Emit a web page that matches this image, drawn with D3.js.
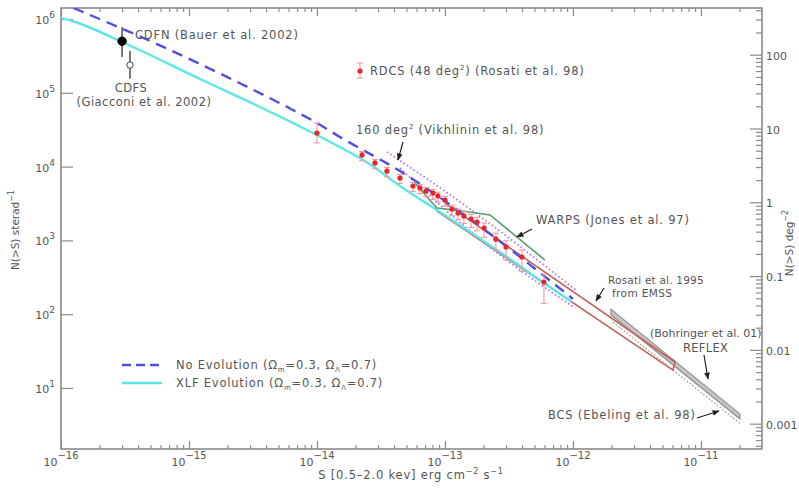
<!DOCTYPE html>
<html>
<head>
<meta charset="utf-8">
<script src="https://d3js.org/d3.v7.min.js"></script>
<style>
  html, body { margin: 0; padding: 0; background: #fff; }
  svg { display: block; }
  text { font-family: "DejaVu Sans", sans-serif; fill: #555; }
  .axis path { display: none; }
  .axis line { stroke: #8a8a8a; stroke-width: 1.2px; }
</style>
</head>
<body>
<div id="chart"></div>
<script>
  // ---- data ----
  // model curves, S in erg cm^-2 s^-1, N(>S) per steradian
  var noEvoS = [1.25e-16, 5.62e-16, 1.98e-15, 6.49e-15, 1e-14, 1.51e-14, 4.45e-14, 1e-13, 1.57e-13, 3e-13, 5.2e-13, 1e-12];
  var noEvoN = [1.41e6, 4.58e5, 1.64e5, 5.85e4, 3.9e4, 2.52e4, 8.7e3, 3.42e3, 1.95e3, 840, 397, 161];

  var xlfS = [1e-16, 1.22e-16, 3.0e-16, 1.22e-15, 3.59e-15, 1e-14, 1.51e-14, 2.59e-14, 4.45e-14, 8.65e-14, 1.57e-13, 3.22e-13, 5.52e-13, 9.8e-13];
  var xlfN = [1.03e6, 9.4e5, 4.88e5, 1.54e5, 6.43e4, 2.68e4, 1.84e4, 1.08e4, 5.46e3, 2.58e3, 1.30e3, 560, 290, 146];

  // RDCS (Rosati et al. 98)
  var rdcsS  = [1e-14, 2.25e-14, 2.84e-14, 3.52e-14, 4.45e-14, 5.62e-14, 6.38e-14, 7.11e-14, 8.05e-14, 8.81e-14, 1e-13,
                1.135e-13, 1.265e-13, 1.406e-13, 1.6e-13, 1.78e-13, 2.02e-13, 2.5e-13, 3e-13, 4e-13, 5.93e-13];
  var rdcsN  = [2.85e4, 1.44e4, 1.12e4, 8.7e3, 7.0e3, 5.46e3, 5.13e3, 4.67e3, 4.38e3, 4.0e3, 3.52e3,
                2.66e3, 2.35e3, 2.14e3, 1.95e3, 1.77e3, 1.47e3, 1.04e3, 815, 596, 273];
  var rdcsLo = [2.1e4, 1.2e4, 9.4e3, 7.3e3, 5.9e3, 4.6e3, 4.3e3, 3.9e3, 3.6e3, 3.3e3, 2.9e3,
                2.15e3, 1.9e3, 1.7e3, 1.5e3, 1.35e3, 1.1e3, 720, 540, 380, 140];
  var rdcsHi = [3.9e4, 1.6e4, 1.25e4, 9.7e3, 7.8e3, 6.1e3, 5.7e3, 5.2e3, 4.9e3, 4.5e3, 3.95e3,
                3.0e3, 2.65e3, 2.45e3, 2.25e3, 2.05e3, 1.72e3, 1.25e3, 990, 740, 350];

  // deep fields: [S, N, Nlo, Nhi]
  var cdfn = [3.0e-16, 5.0e5, 3.06e5, 7.8e5];
  var cdfs = [3.46e-16, 2.38e5, 1.55e5, 3.7e5];

  // 160 deg^2 (Vikhlinin et al. 98) band edges
  var vikUpS = [3.52e-14, 1.57e-13, 1.05e-12];
  var vikUpN = [1.58e4, 2.66e3, 213];
  var vikLoS = [4.45e-14, 2.13e-13, 1.04e-12];
  var vikLoN = [9.5e3, 867, 121];

  // WARPS (Jones et al. 97)
  var warpsS = [5.83e-14, 7.36e-14, 8.65e-14, 1.36e-13, 2.25e-13, 6.04e-13];
  var warpsN = [6.0e3, 3.76e3, 2.75e3, 2.5e3, 2.21e3, 542];

  // Rosati et al. 1995, EMSS band edges
  var emssUpS = [1e-13, 6.27e-12];
  var emssUpN = [3.2e3, 22.5];
  var emssLoS = [8.65e-14, 6.04e-12];
  var emssLoN = [2.5e3, 17.5];

  // REFLEX (Boehringer et al. 01) band edges, BCS (Ebeling et al. 98)
  var reflexS  = [1.98e-12, 2.02e-11];
  var reflexUp = [117, 4.45];
  var reflexLo = [97.5, 3.8];
  var bcsS = [2.05e-12, 2.05e-11];
  var bcsN = [78, 3.25];

  var xMajor = [1e-16, 1e-15, 1e-14, 1e-13, 1e-12, 1e-11];
  var xExp = ["\u221216", "\u221215", "\u221214", "\u221213", "\u221212", "\u221211"];
  var yMajor = [1e1, 1e2, 1e3, 1e4, 1e5, 1e6];
  var yExp = ["1", "2", "3", "4", "5", "6"];
  var rMajor = [100, 10, 1, 0.1, 0.01, 0.001];
  var rLabels = ["100", "10", "1", "0.1", "0.01", "0.001"];
  var SR_TO_DEG2 = 3282.8;

  // ---- layout ----
  var width = 799, height = 488;
  var mLeft = 61, mRight = 762, mTop = 8, mBottom = 449;

  var x = d3.scaleLog().domain([1e-16, 3e-11]).range([mLeft, mRight]);
  var y = d3.scaleLog().domain([1.49, 1.41e6]).range([mBottom, mTop]);
  var y2 = d3.scaleLog().domain([1.49 / SR_TO_DEG2, 1.41e6 / SR_TO_DEG2]).range([mBottom, mTop]);

  var svg = d3.select("#chart").append("svg")
      .attr("width", width)
      .attr("height", height);

  var defs = svg.append("defs");
  defs.append("marker")
      .attr("id", "arrow")
      .attr("viewBox", "0 0 10 10")
      .attr("refX", 9).attr("refY", 5)
      .attr("markerWidth", 6).attr("markerHeight", 6)
      .attr("orient", "auto")
      .append("path")
      .attr("d", "M0,1L10,5L0,9z")
      .attr("fill", "#222");

  // minor tick values
  function minors(lo, hi) {
    var out = [];
    for (var e = lo; e <= hi; e++) {
      for (var m = 2; m <= 9; m++) out.push(m * Math.pow(10, e));
    }
    return out;
  }
  var xMinor = minors(-16, -11).filter(function (v) { return v < 3e-11; });
  var rMinor = minors(-4, 2).filter(function (v) { return y2(v) >= mTop && y2(v) <= mBottom; });

  // ---- axes ----
  svg.append("g").attr("class", "axis")
      .attr("transform", "translate(0," + mBottom + ")")
      .call(d3.axisBottom(x).tickValues(xMajor).tickSize(-8).tickFormat(""));
  svg.append("g").attr("class", "axis")
      .attr("transform", "translate(0," + mBottom + ")")
      .call(d3.axisBottom(x).tickValues(xMinor).tickSize(-4).tickFormat(""));
  svg.append("g").attr("class", "axis")
      .attr("transform", "translate(0," + mTop + ")")
      .call(d3.axisTop(x).tickValues(xMajor).tickSize(-8).tickFormat(""));
  svg.append("g").attr("class", "axis")
      .attr("transform", "translate(0," + mTop + ")")
      .call(d3.axisTop(x).tickValues(xMinor).tickSize(-4).tickFormat(""));
  svg.append("g").attr("class", "axis")
      .attr("transform", "translate(" + mLeft + ",0)")
      .call(d3.axisLeft(y).tickValues(yMajor).tickSize(-12).tickFormat(""));
  svg.append("g").attr("class", "axis")
      .attr("transform", "translate(" + mRight + ",0)")
      .call(d3.axisRight(y2).tickValues(rMajor).tickSize(-12).tickFormat(""));
  svg.append("g").attr("class", "axis")
      .attr("transform", "translate(" + mRight + ",0)")
      .call(d3.axisRight(y2).tickValues(rMinor).tickSize(-6).tickFormat(""));

  svg.append("rect")
      .attr("x", mLeft).attr("y", mTop)
      .attr("width", mRight - mLeft).attr("height", mBottom - mTop)
      .attr("fill", "none")
      .attr("stroke", "#8a8a8a")
      .attr("stroke-width", 1.6);

  // tick labels
  xMajor.forEach(function (v, i) {
    var t = svg.append("text")
        .attr("x", x(v)).attr("y", 466)
        .attr("text-anchor", "middle")
        .style("font-size", "11px");
    t.append("tspan").text("10");
    t.append("tspan").attr("dy", -7).style("font-size", "10px").text(xExp[i]);
  });
  yMajor.forEach(function (v, i) {
    var t = svg.append("text")
        .attr("x", 55).attr("y", y(v) + 5)
        .attr("text-anchor", "end")
        .style("font-size", "11px");
    t.append("tspan").text("10");
    t.append("tspan").attr("dy", -6).style("font-size", "9px").text(yExp[i]);
  });
  rMajor.forEach(function (v, i) {
    svg.append("text")
        .attr("x", 766).attr("y", y2(v) + 5)
        .style("font-size", "11px")
        .text(rLabels[i]);
  });

  // axis titles
  var xt = svg.append("text")
      .attr("x", 411).attr("y", 479)
      .attr("text-anchor", "middle")
      .style("font-size", "11.5px")
      .style("letter-spacing", "0.8px");
  xt.append("tspan").text("S [0.5\u20132.0 kev] erg cm");
  xt.append("tspan").attr("dy", -5).style("font-size", "8px").text("\u22122");
  xt.append("tspan").attr("dy", 5).text(" s");
  xt.append("tspan").attr("dy", -5).style("font-size", "8px").text("\u22121");

  var lt = svg.append("text")
      .attr("transform", "translate(19,230) rotate(-90)")
      .attr("text-anchor", "middle")
      .style("font-size", "10.5px");
  lt.append("tspan").text("N(>S) sterad");
  lt.append("tspan").attr("dy", -5).style("font-size", "8px").text("\u22121");

  var rt = svg.append("text")
      .attr("transform", "translate(793,243) rotate(-90)")
      .attr("text-anchor", "middle")
      .style("font-size", "10.5px");
  rt.append("tspan").text("N(>S) deg");
  rt.append("tspan").attr("dy", -5).style("font-size", "8px").text("\u22122");

  // ---- marks ----
  function zipLine(sArr, nArr) {
    return sArr.map(function (s, i) { return [s, nArr[i]]; });
  }
  var line = d3.line()
      .x(function (d) { return x(d[0]); })
      .y(function (d) { return y(d[1]); })
      .curve(d3.curveMonotoneX);
  var straight = d3.line()
      .x(function (d) { return x(d[0]); })
      .y(function (d) { return y(d[1]); });

  defs.append("clipPath").attr("id", "clip")
      .append("rect")
      .attr("x", mLeft).attr("y", mTop)
      .attr("width", mRight - mLeft).attr("height", mBottom - mTop);
  var plot = svg.append("g").attr("clip-path", "url(#clip)");

  // REFLEX band
  var reflexPoly = zipLine(reflexS, reflexUp).concat(zipLine(reflexS, reflexLo).reverse());
  plot.append("path")
      .attr("d", straight(reflexPoly) + "Z")
      .attr("fill", "#c4c4c4")
      .attr("stroke", "#8c8c8c")
      .attr("stroke-width", 1.1);
  // BCS
  plot.append("path")
      .attr("d", straight(zipLine(bcsS, bcsN)))
      .attr("fill", "none")
      .attr("stroke", "#9a9a9a")
      .attr("stroke-width", 1.3)
      .attr("stroke-dasharray", "1.5,2");

  // EMSS band
  var emssPoly = zipLine(emssUpS, emssUpN).concat(zipLine(emssLoS, emssLoN).reverse());
  plot.append("path")
      .attr("d", straight(emssPoly))
      .attr("fill", "none")
      .attr("stroke", "#c0645a")
      .attr("stroke-width", 1.6)
      .attr("stroke-linejoin", "round");

  // 160 deg^2 band
  [[vikUpS, vikUpN], [vikLoS, vikLoN]].forEach(function (b) {
    plot.append("path")
        .attr("d", line(zipLine(b[0], b[1])))
        .attr("fill", "none")
        .attr("stroke", "#b46cf0")
        .attr("stroke-width", 1.8)
        .attr("stroke-dasharray", "1.5,2.5");
  });

  // WARPS
  plot.append("path")
      .attr("d", straight(zipLine(warpsS, warpsN)))
      .attr("fill", "none")
      .attr("stroke", "#5a9c6a")
      .attr("stroke-width", 1.6);

  // models
  plot.append("path")
      .attr("d", line(zipLine(xlfS, xlfN)))
      .attr("fill", "none")
      .attr("stroke", "#5ce6e6")
      .attr("stroke-width", 2.4);
  plot.append("path")
      .attr("d", line(zipLine(noEvoS, noEvoN)))
      .attr("fill", "none")
      .attr("stroke", "#4f4fe6")
      .attr("stroke-width", 2.4)
      .attr("stroke-dasharray", "11,7");

  // RDCS error bars and points
  var rdcs = rdcsS.map(function (s, i) {
    return {s: s, n: rdcsN[i], lo: rdcsLo[i], hi: rdcsHi[i]};
  });
  var eb = plot.append("g")
      .attr("stroke", "#f29a9a")
      .attr("stroke-width", 1.1);
  rdcs.forEach(function (d) {
    var cx = x(d.s);
    eb.append("line").attr("x1", cx).attr("x2", cx).attr("y1", y(d.hi)).attr("y2", y(d.lo));
    eb.append("line").attr("x1", cx - 3).attr("x2", cx + 3).attr("y1", y(d.hi)).attr("y2", y(d.hi));
    eb.append("line").attr("x1", cx - 3).attr("x2", cx + 3).attr("y1", y(d.lo)).attr("y2", y(d.lo));
  });
  plot.selectAll("circle.rdcs").data(rdcs).enter()
      .append("circle")
      .attr("class", "rdcs")
      .attr("cx", function (d) { return x(d.s); })
      .attr("cy", function (d) { return y(d.n); })
      .attr("r", 2.6)
      .attr("fill", "#e8242c");

  // CDFN / CDFS
  [cdfn, cdfs].forEach(function (p, i) {
    plot.append("line")
        .attr("x1", x(p[0])).attr("x2", x(p[0]))
        .attr("y1", y(p[3])).attr("y2", y(p[2]))
        .attr("stroke", "#222").attr("stroke-width", 1.2);
    plot.append("circle")
        .attr("cx", x(p[0])).attr("cy", y(p[1]))
        .attr("r", i === 0 ? 4.2 : 3.2)
        .attr("fill", i === 0 ? "#000" : "#fff")
        .attr("stroke", i === 0 ? "#000" : "#444")
        .attr("stroke-width", 1);
  });

  // ---- annotations ----
  function label(px, py, txt, anchor, spacing, size) {
    return svg.append("text")
        .attr("x", px).attr("y", py)
        .attr("text-anchor", anchor || "start")
        .style("font-size", (size || 11.5) + "px")
        .style("letter-spacing", (spacing === undefined ? 0.8 : spacing) + "px")
        .text(txt);
  }
  function arrow(x1, y1, x2, y2) {
    svg.append("line")
        .attr("x1", x1).attr("y1", y1).attr("x2", x2).attr("y2", y2)
        .attr("stroke", "#222").attr("stroke-width", 1.2)
        .attr("marker-end", "url(#arrow)");
  }

  label(135, 39, "CDFN (Bauer et al. 2002)");
  label(131, 92, "CDFS", "middle", 0.5);
  label(144, 106, "(Giacconi et al. 2002)", "middle", 0.5);

  // RDCS legend entry
  var lx = 360;
  svg.append("line").attr("x1", lx).attr("x2", lx).attr("y1", 63).attr("y2", 78)
      .attr("stroke", "#f29a9a").attr("stroke-width", 1.1);
  svg.append("line").attr("x1", lx - 3).attr("x2", lx + 3).attr("y1", 63).attr("y2", 63)
      .attr("stroke", "#f29a9a").attr("stroke-width", 1.1);
  svg.append("line").attr("x1", lx - 3).attr("x2", lx + 3).attr("y1", 78).attr("y2", 78)
      .attr("stroke", "#f29a9a").attr("stroke-width", 1.1);
  svg.append("circle").attr("cx", lx).attr("cy", 71).attr("r", 2.6).attr("fill", "#e8242c");
  var rl = label(370, 75, "");
  rl.append("tspan").text("RDCS (48 deg");
  rl.append("tspan").attr("dy", -5).style("font-size", "7px").text("2");
  rl.append("tspan").attr("dy", 5).text(") (Rosati et al. 98)");

  var vl = label(356, 134, "");
  vl.append("tspan").text("160 deg");
  vl.append("tspan").attr("dy", -5).style("font-size", "7px").text("2");
  vl.append("tspan").attr("dy", 5).text(" (Vikhlinin et al. 98)");
  arrow(403, 142, 398, 160);

  label(536, 224, "WARPS (Jones et al. 97)");
  arrow(532, 229, 517, 237);

  label(608, 284, "Rosati et al. 1995", "start", 0.2, 10.5);
  label(612, 297, "from EMSS", "start", 0.4, 10.5);
  arrow(604, 288, 596, 301);

  label(650, 337, "(Bohringer et al. 01)", "start", 0, 11);
  label(683, 352, "REFLEX", "start", 0.3);
  arrow(704, 355, 708, 379);

  label(548, 419, "BCS (Ebeling et al. 98)");
  arrow(697, 418, 719, 411);

  // model legend
  svg.append("line").attr("x1", 122).attr("x2", 162).attr("y1", 365).attr("y2", 365)
      .attr("stroke", "#4f4fe6").attr("stroke-width", 2.4).attr("stroke-dasharray", "9,5");
  svg.append("line").attr("x1", 122).attr("x2", 162).attr("y1", 383).attr("y2", 383)
      .attr("stroke", "#5ce6e6").attr("stroke-width", 2.4);
  [["No Evolution (", 369], ["XLF Evolution (", 387]].forEach(function (r) {
    var t = label(176, r[1], "");
    t.append("tspan").text(r[0] + "\u03a9");
    t.append("tspan").attr("dy", 3).style("font-size", "7px").text("m");
    t.append("tspan").attr("dy", -3).text("=0.3, \u03a9");
    t.append("tspan").attr("dy", 3).style("font-size", "7px").text("\u039b");
    t.append("tspan").attr("dy", -3).text("=0.7)");
  });
</script>
</body>
</html>
